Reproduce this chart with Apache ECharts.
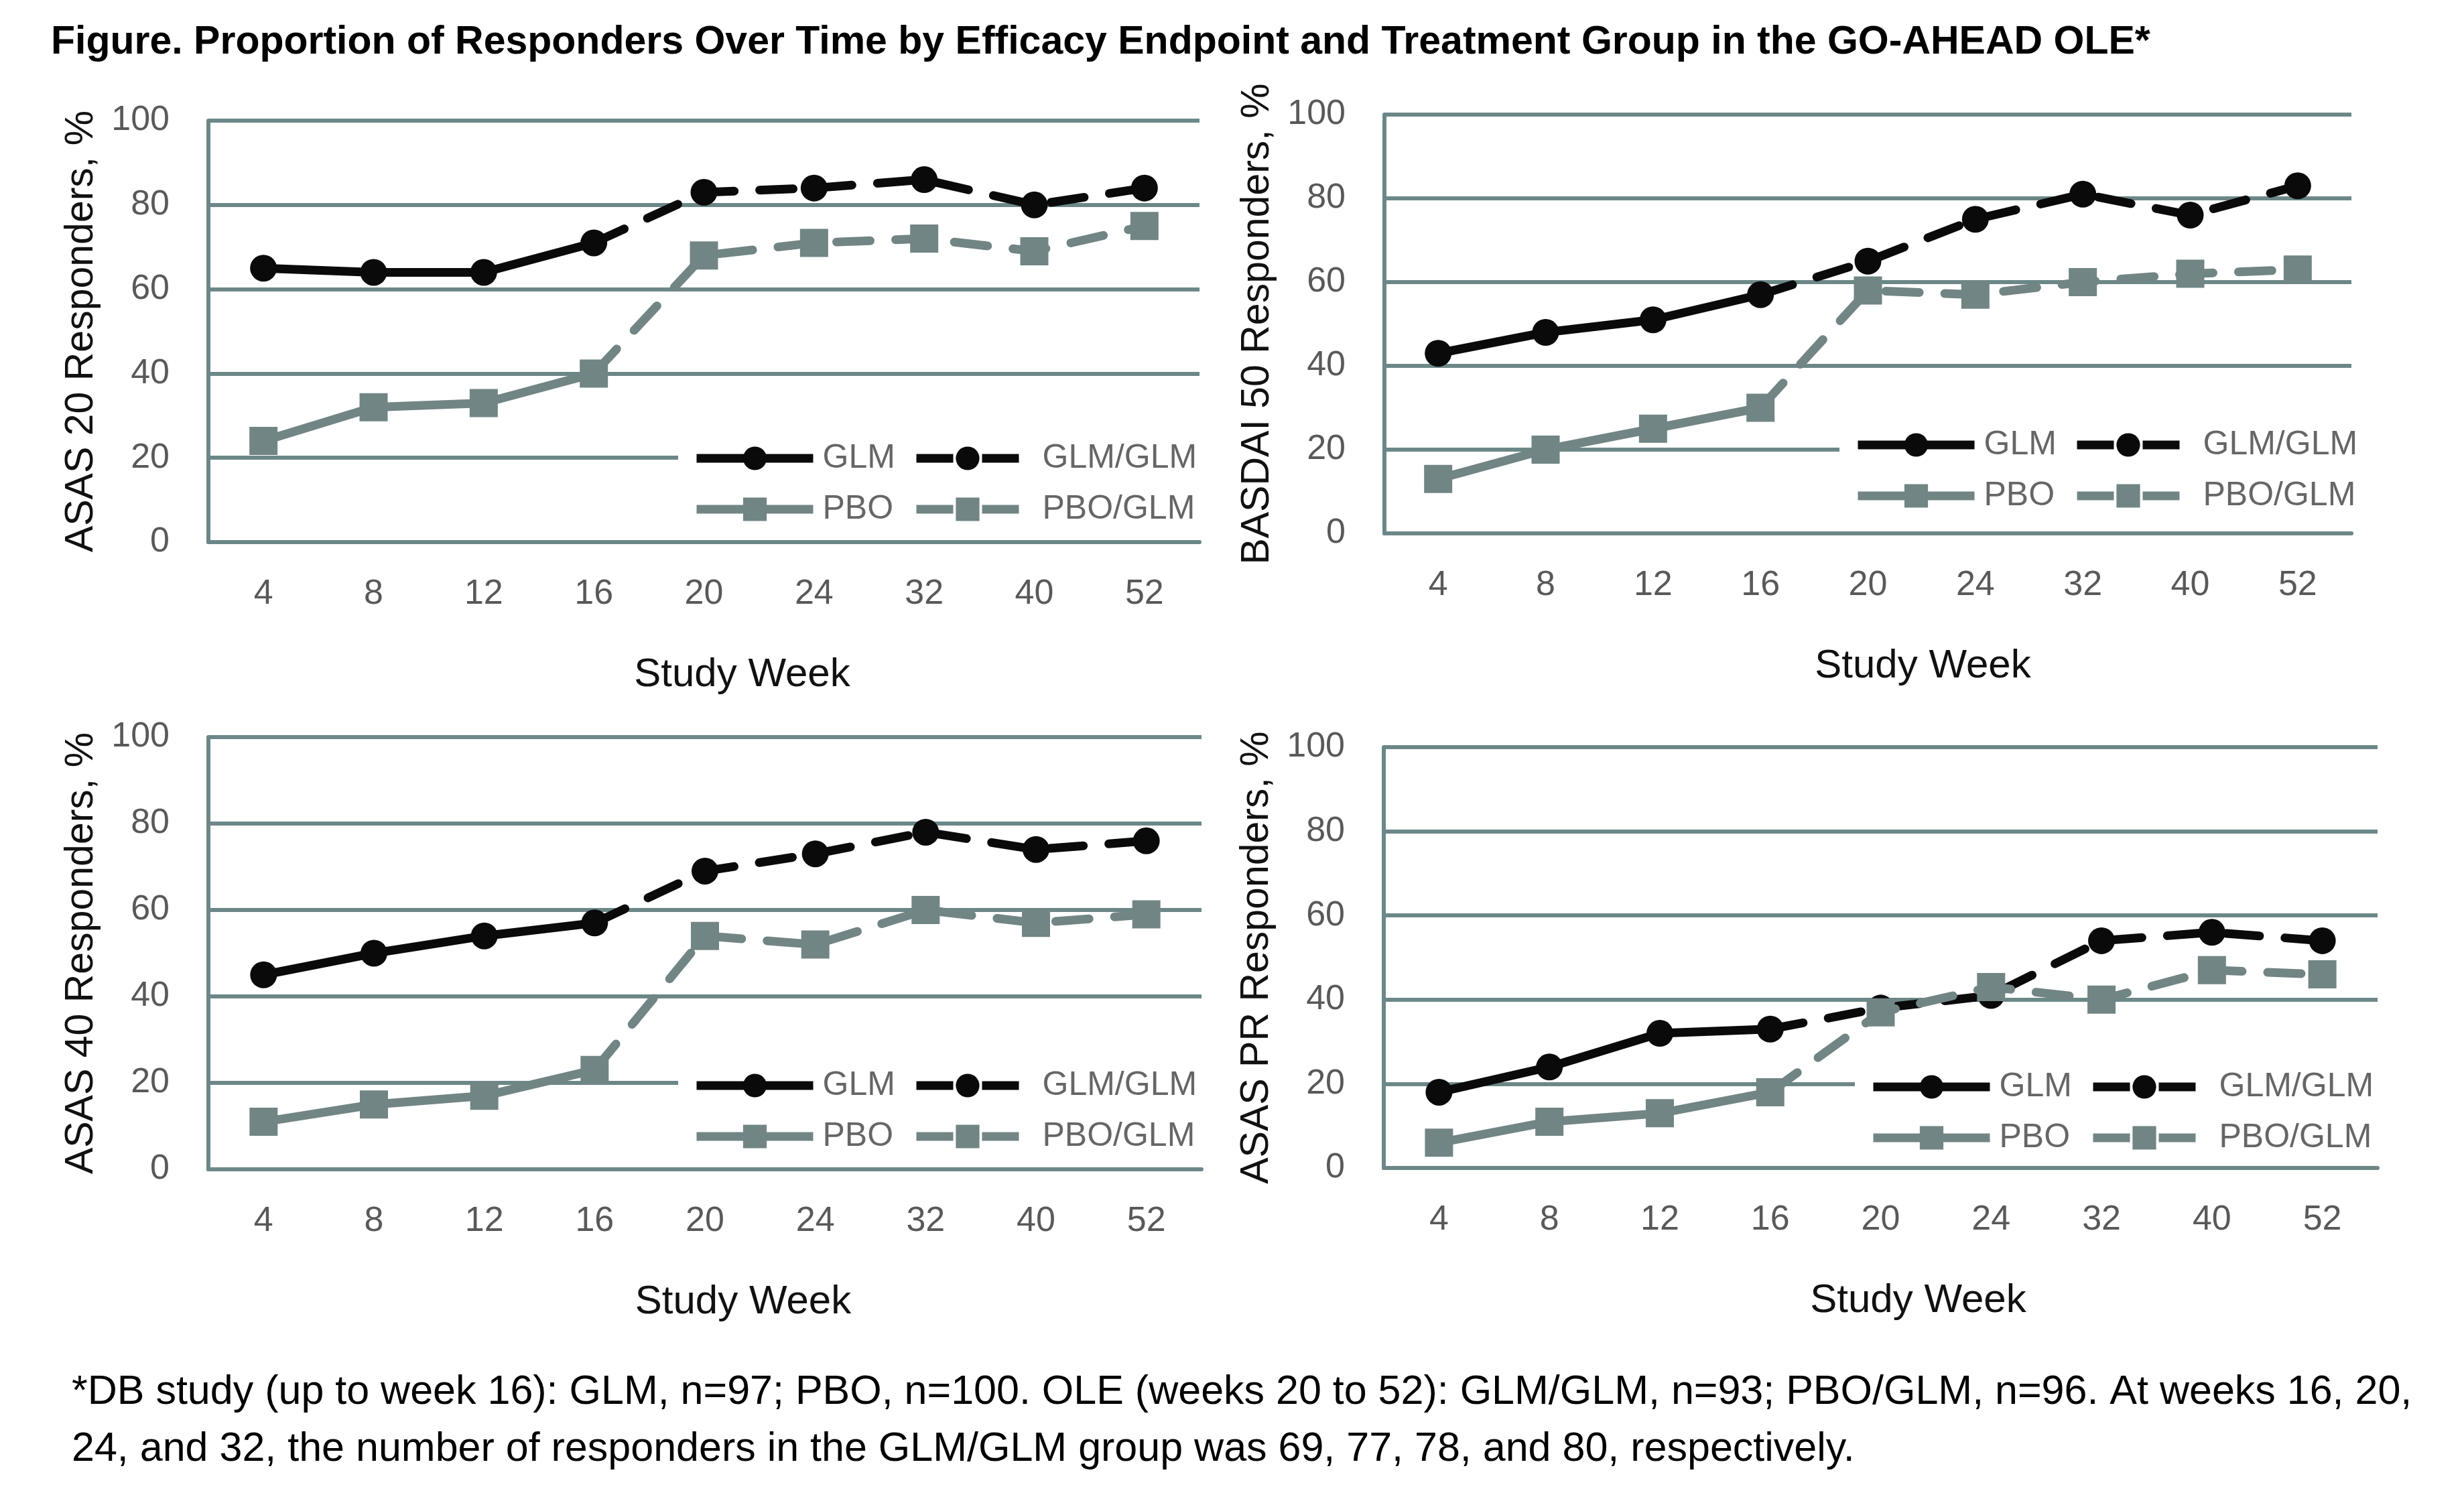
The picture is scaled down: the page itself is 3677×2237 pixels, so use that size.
<!DOCTYPE html>
<html><head><meta charset="utf-8">
<script src="https://cdn.jsdelivr.net/npm/echarts@6/dist/echarts.min.js"></script>
<style>html,body{margin:0;padding:0;background:#fff}#c{width:3677px;height:2237px}</style>
</head><body><div id="c"></div>
<script>
// ---- data ----
const weeks = ['4','8','12','16','20','24','32','40','52'];
const yMin = 0, yMax = 100, yStep = 20;
const seriesNames = ['GLM', 'GLM/GLM', 'PBO', 'PBO/GLM'];

const asas20_GLM    = [65, 64, 64, 71];
const asas20_GLMGLM = [83, 84, 86, 80, 84];
const asas20_PBO    = [24, 32, 33, 40];
const asas20_PBOGLM = [68, 71, 72, 69, 75];

const basdai50_GLM    = [43, 48, 51, 57];
const basdai50_GLMGLM = [65, 75, 81, 76, 83];
const basdai50_PBO    = [13, 20, 25, 30];
const basdai50_PBOGLM = [58, 57, 60, 62, 63];

const asas40_GLM    = [45, 50, 54, 57];
const asas40_GLMGLM = [69, 73, 78, 74, 76];
const asas40_PBO    = [11, 15, 17, 23];
const asas40_PBOGLM = [54, 52, 60, 57, 59];

const asaspr_GLM    = [18, 24, 32, 33];
const asaspr_GLMGLM = [38, 41, 54, 56, 54];
const asaspr_PBO    = [6, 11, 13, 18];
const asaspr_PBOGLM = [37, 43, 40, 47, 46];

const panelNames = ['ASAS 20 Responders, %', 'BASDAI 50 Responders, %', 'ASAS 40 Responders, %', 'ASAS PR Responders, %'];
const titleText = 'Figure. Proportion of Responders Over Time by Efficacy Endpoint and Treatment Group in the GO-AHEAD OLE*';
const footText = '*DB study (up to week 16): GLM, n=97; PBO, n=100. OLE (weeks 20 to 52): GLM/GLM, n=93; PBO/GLM, n=96. At weeks 16, 20,\n24, and 32, the number of responders in the GLM/GLM group was 69, 77, 78, and 80, respectively.';

const panels = [
  [asas20_GLM, asas20_GLMGLM, asas20_PBO, asas20_PBOGLM],
  [basdai50_GLM, basdai50_GLMGLM, basdai50_PBO, basdai50_PBOGLM],
  [asas40_GLM, asas40_GLMGLM, asas40_PBO, asas40_PBOGLM],
  [asaspr_GLM, asaspr_GLMGLM, asaspr_PBO, asaspr_PBOGLM]
];

// ---- styles / layout ----
const BLACK = '#0a0a0a', GRAY = '#728585', GRID = '#6c8787', LBL = '#595959';
const FONT = "'Liberation Sans', Arial, sans-serif";
const grids = [
  {left: 311, top: 180, width: 1479, height: 629},
  {left: 2066, top: 171, width: 1443, height: 625},
  {left: 311, top: 1100, width: 1482, height: 645},
  {left: 2065, top: 1115, width: 1483, height: 628}
];
const nameShift = [114, 164, 114, 112];
const legendPos = [
  {aLeft: 1012, bLeft: 1330, row1: 690, aText: 9, bText: 30},
  {aLeft: 2745, bLeft: 3062, row1: 670, aText: 9, bText: 30},
  {aLeft: 1012, bLeft: 1330, row1: 1626, aText: 9, bText: 30},
  {aLeft: 2768, bLeft: 3086, row1: 1628, aText: 9, bText: 30}
];

const dbLen = 4;
function dbData(v) { return weeks.map((w, i) => i < dbLen ? v[i] : null); }
function oleData(db, ole) {
  return weeks.map((w, i) => {
    if (i === dbLen - 1) return {value: db[i], symbol: 'none'};
    if (i >= dbLen) return ole[i - dbLen];
    return null;
  });
}

const option = {
  backgroundColor: '#fff',
  animation: false,
  title: [
    {text: titleText, left: 76, top: 34, padding: 0,
     textStyle: {fontFamily: FONT, fontWeight: 'bold', fontSize: 59, color: '#000'}},
    {text: footText, left: 107, top: 2036, padding: 0,
     textStyle: {fontFamily: FONT, fontWeight: 'normal', fontSize: 61, lineHeight: 85, color: '#000'}}
  ],
  grid: grids.map(g => Object.assign({containLabel: false, outerBoundsMode: 'none'}, g)),
  xAxis: grids.map((g, i) => ({
    type: 'category', gridIndex: i, data: weeks, boundaryGap: true,
    axisLine: {show: true, lineStyle: {color: GRID, width: 6}},
    axisTick: {show: false},
    axisLabel: {interval: 0, margin: 52, color: LBL, fontSize: 52, fontFamily: FONT},
    splitLine: {show: false},
    name: 'Study Week', nameLocation: 'middle', nameGap: 168,
    nameTextStyle: {fontFamily: FONT, fontSize: 60, color: '#111', padding: [0, 0, 0, nameShift[i]]}
  })),
  yAxis: grids.map((g, i) => ({
    type: 'value', gridIndex: i, min: yMin, max: yMax, interval: yStep,
    axisLine: {show: true, lineStyle: {color: GRID, width: 6}},
    axisTick: {show: false},
    axisLabel: {margin: 58, color: LBL, fontSize: 52, fontFamily: FONT},
    splitLine: {show: true, lineStyle: {color: GRID, width: 6}},
    name: panelNames[i], nameLocation: 'middle', nameGap: 160, nameRotate: 90,
    nameTextStyle: {fontFamily: FONT, fontSize: 59, color: '#111'}
  })),
  legend: [],
  series: []
};

panels.forEach((p, i) => {
  const [glm, glmglm, pbo, pboglm] = p;
  const common = {type: 'line', xAxisIndex: i, yAxisIndex: i, connectNulls: false, z: 3};
  option.series.push(Object.assign({}, common, {
    name: 'GLM', data: dbData(glm), symbol: 'circle', symbolSize: 40,
    itemStyle: {color: BLACK}, lineStyle: {color: BLACK, width: 13, type: 'solid'}
  }));
  option.series.push(Object.assign({}, common, {
    name: 'GLM/GLM', data: oleData(glm, glmglm), symbol: 'circle', symbolSize: 40,
    itemStyle: {color: BLACK}, lineStyle: {color: BLACK, width: 13, type: [50, 38], cap: 'round'}
  }));
  option.series.push(Object.assign({}, common, {
    name: 'PBO', data: dbData(pbo), symbol: 'rect', symbolSize: 42,
    itemStyle: {color: GRAY}, lineStyle: {color: GRAY, width: 13, type: 'solid'}
  }));
  option.series.push(Object.assign({}, common, {
    name: 'PBO/GLM', data: oleData(pbo, pboglm), symbol: 'rect', symbolSize: 42,
    itemStyle: {color: GRAY}, lineStyle: {color: GRAY, width: 13, type: [50, 38], cap: 'round'}
  }));
  const lp = legendPos[i];
  const base = {orient: 'vertical', itemHeight: 44, itemGap: 26, selectedMode: false,
    backgroundColor: '#fff', borderWidth: 0, z: 10,
    textStyle: {fontFamily: FONT, fontSize: 50, color: '#666'}};
  option.legend.push(Object.assign({}, base, {
    data: ['GLM', 'PBO'], left: lp.aLeft, top: lp.row1 - 22 - 22 - 9,
    itemWidth: 174, padding: [22, 6, 6, 21],
    lineStyle: {width: 13, type: 'solid', cap: 'butt'},
    textStyle: Object.assign({}, base.textStyle, {padding: [0, 0, 0, lp.aText]})
  }));
  option.legend.push(Object.assign({}, base, {
    data: ['GLM/GLM', 'PBO/GLM'], left: lp.bLeft, top: lp.row1 - 22 - 22 - 9,
    itemWidth: 153, padding: [22, 40, 6, 31],
    lineStyle: {width: 13, type: [55, 43], cap: 'butt'},
    textStyle: Object.assign({}, base.textStyle, {padding: [0, 0, 0, lp.bText]})
  }));
});

const chart = echarts.init(document.getElementById('c'), null, {renderer: 'canvas'});
chart.setOption(option);
</script>
</body></html>
